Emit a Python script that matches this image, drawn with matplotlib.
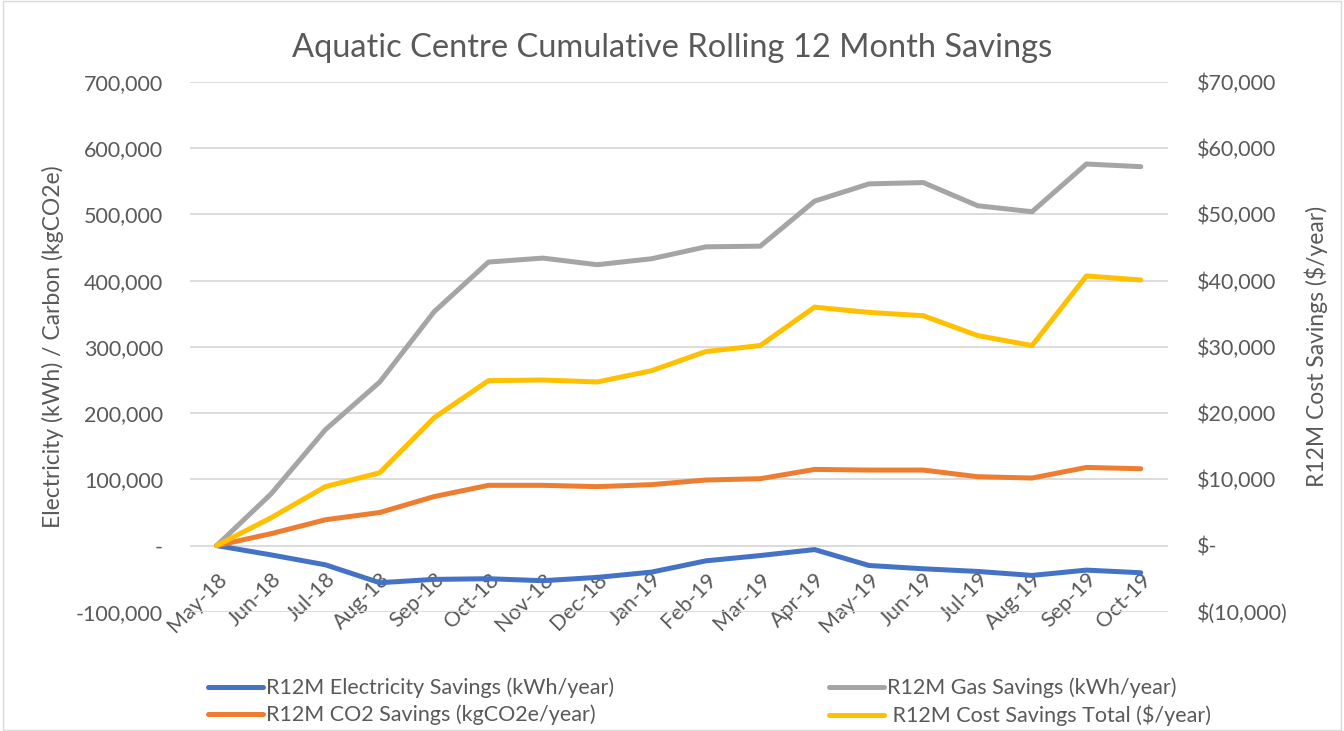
import matplotlib.pyplot as plt
from matplotlib.ticker import FuncFormatter

plt.rcParams['font.family'] = ['Lato', 'DejaVu Sans']

# ---- Data ----
months = ["May-18", "Jun-18", "Jul-18", "Aug-18", "Sep-18", "Oct-18", "Nov-18", "Dec-18", "Jan-19",
          "Feb-19", "Mar-19", "Apr-19", "May-19", "Jun-19", "Jul-19", "Aug-19", "Sep-19", "Oct-19"]
elec = [0, -14000, -29000, -56000, -51000, -50000, -53000, -48000, -40000,
        -23000, -15000, -6000, -30000, -35000, -39000, -45000, -37000, -41000]
gas = [0, 78000, 175000, 247000, 353000, 428000, 434000, 424000, 433000,
       451000, 452000, 520000, 546000, 548000, 513000, 504000, 576000, 572000]
co2 = [0, 18000, 39000, 50000, 74000, 91000, 91000, 89000, 92000,
       99000, 101000, 115000, 114000, 114000, 104000, 102000, 118000, 116000]
cost = [0, 4200, 8900, 11000, 19300, 24900, 25000, 24700, 26400,
        29300, 30200, 36000, 35200, 34700, 31700, 30200, 40700, 40100]

txt = "#595959"
fs = 15.5

fig = plt.figure(figsize=(13.44, 7.31), dpi=100)
ax = fig.add_axes([0.141, 0.163, 0.728, 0.725])
ax2 = ax.twinx()

x = range(len(months))
lw = 3.6
l_elec, = ax.plot(x, elec, color="#4472C4", lw=lw, solid_capstyle="round", zorder=3,
                  label="R12M Electricity Savings (kWh/year)")
l_gas, = ax.plot(x, gas, color="#A5A5A5", lw=lw, solid_capstyle="round", zorder=3,
                 label="R12M Gas Savings (kWh/year)")
l_co2, = ax.plot(x, co2, color="#ED7D31", lw=lw, solid_capstyle="round", zorder=3,
                 label="R12M CO2 Savings (kgCO2e/year)")
l_cost, = ax2.plot(x, cost, color="#FFC000", lw=lw, solid_capstyle="round", zorder=3,
                   label=" R12M Cost Savings Total ($/year)")

ax.set_xlim(-0.5, len(months) - 0.5)
ax.set_ylim(-100000, 700000)
ax2.set_ylim(-10000, 70000)
ax.set_yticks(range(-100000, 700001, 100000))
ax2.set_yticks(range(-10000, 70001, 10000))


def left_fmt(v, p):
    if v == 0:
        return "-"
    return f"{v:,.0f}"


def right_fmt(v, p):
    if v == 0:
        return "$-"
    if v < 0:
        return f"$({-v:,.0f})"
    return f"${v:,.0f}"


ax.yaxis.set_major_formatter(FuncFormatter(left_fmt))
ax2.yaxis.set_major_formatter(FuncFormatter(right_fmt))

ax.grid(axis="y", color="#D9D9D9", lw=1.3)
ax.set_axisbelow(True)
for a in (ax, ax2):
    for s in a.spines.values():
        s.set_visible(False)
    a.tick_params(length=0, colors=txt, labelsize=fs)

# category axis crosses at zero, like Excel
ax.spines["bottom"].set_position(("data", 0))
ax.set_xticks(list(x))
ax.set_xticklabels(months, rotation=45, ha="right", rotation_mode="anchor")
ax.tick_params(axis="x", pad=17)
ax.tick_params(axis="y", pad=19)
ax2.tick_params(axis="y", pad=21)

ax.set_ylabel("Electricity (kWh) / Carbon (kgCO2e)", color=txt, fontsize=fs + 1, va="center")
ax.yaxis.set_label_coords(-0.140, 0.5)
ax2.set_ylabel("R12M Cost Savings ($/year)", color=txt, fontsize=fs + 1, va="center")
ax2.yaxis.set_label_coords(1.152, 0.5)

fig.suptitle("Aquatic Centre Cumulative Rolling 12 Month Savings", color=txt, fontsize=23.5, y=0.955)

fig.legend([l_elec, l_co2, l_gas, l_cost],
           [l.get_label() for l in (l_elec, l_co2, l_gas, l_cost)],
           ncol=2, loc="center", bbox_to_anchor=(0.528, 0.040), frameon=False,
           fontsize=fs, labelcolor=txt, columnspacing=10, handlelength=2.55,
           handletextpad=0.15, labelspacing=0.3)

# chart border
fig.patches.append(plt.Rectangle((0.002, 0.002), 0.996, 0.996, transform=fig.transFigure,
                                 fill=False, edgecolor="#D9D9D9", lw=1))

fig.savefig("out.png", dpi=100)
